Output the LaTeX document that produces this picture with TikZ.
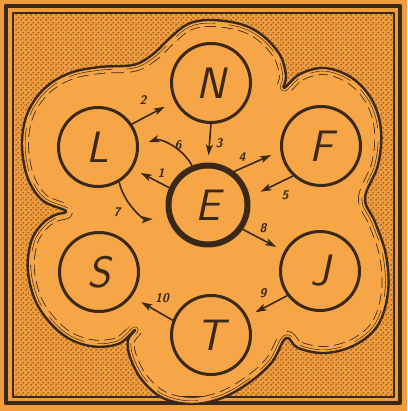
\documentclass[tikz,border=0pt]{standalone}
\usetikzlibrary{arrows.meta,patterns.meta}
\definecolor{bgor}{HTML}{F09C3C}
\definecolor{blobor}{HTML}{F6A646}
\definecolor{ink}{HTML}{3A2818}
\tikzdeclarepattern{name=stipple, type=uncolored,
  bottom left={(0pt,0pt)}, top right={(5pt,5pt)}, tile size={(5pt,5pt)},
  code={\fill (1.25pt,1.25pt) circle (0.85pt); \fill (3.75pt,3.75pt) circle (0.85pt);}}
\newcommand\blobpath{plot[smooth cycle, tension=0.6] coordinates {
 (210,20) (240,24) (262,35) (280,55) (286,76) (284,88)
 (300,74) (325,68) (352,78) (372,100) (381,130) (378,165) (365,198)
 (375,222) (386,255) (388,292) (378,325) (355,345) (325,353) (298,348) (286,338)
 (272,362) (250,382) (222,398) (192,404) (163,398) (142,380) (130,357) (128,340) (135,330)
 (118,344) (90,346) (62,334) (38,306) (28,272) (31,242) (42,224) (55,215) (66,211)
 (42,200) (27,176) (22,142) (28,112) (45,88) (70,73) (100,67) (133,65) (152,55) (170,38) (188,24)}}
\tikzset{
  circ/.style={circle, draw=ink, line width=3pt, minimum size=79pt, inner sep=0pt,
    font=\fontsize{44}{44}\selectfont\sffamily\itshape, text=ink},
  hub/.style={circ, line width=6pt},
  arr/.style={draw=ink, line width=1.6pt, -{Stealth[length=11pt,width=7pt,inset=2.5pt]}},
  num/.style={font=\fontsize{12.5}{12.5}\selectfont\sffamily\bfseries\itshape, text=ink, inner sep=0pt}
}
\begin{document}
\begin{tikzpicture}[x=1pt,y=-1pt, line join=round]
\useasboundingbox (0,0) rectangle (407,411);
\fill[bgor] (0,0) rectangle (407,411);
\fill[blobor] \blobpath;
\fill[pattern=stipple, pattern color=ink, even odd rule] (13,13) rectangle (394,397) \blobpath;
\draw[ink, line width=4.5pt] (6,6) rectangle (400,403);
\draw[ink, line width=1.5pt] (13,13) rectangle (394,397);
\begin{scope}
  \clip \blobpath;
  \draw[line width=13.8pt, ink, dash pattern=on 12pt off 6pt] \blobpath;
  \draw[line width=12.2pt, blobor] \blobpath;
  \draw[line width=6.8pt, ink, dash pattern=on 45pt off 14pt] \blobpath;
  \draw[line width=5.6pt, blobor] \blobpath;
\end{scope}
\draw[ink, line width=2.4pt] \blobpath;

\node[circ] (N) at (211,83) {N};
\node[circ] (L) at (98,147) {L};
\node[circ] (F) at (321,146) {F};
\node[hub]  (E) at (208,205) {E};
\node[circ] (S) at (99,272) {S};
\node[circ] (J) at (320,271) {J};
\node[circ] (T) at (211,335) {T};

\draw[arr, shorten >=11pt] (L.34) -- (N.207);
\draw[arr, shorten >=7pt] (N.270) -- (E.90);
\draw[arr, shorten >=10pt] (E.52) -- (F.187);
\draw[arr, shorten >=12pt] (F.227) -- (E.11);
\draw[arr, shorten >=10pt] (E.112) to[bend right=40] (L.2);
\draw[arr, shorten >=9pt] (E.156) -- (L.-32);
\draw[arr, shorten >=15pt] (L.-59) to[bend right=40] (E.198);
\draw[arr, shorten >=9pt] (E.-35) -- (J.151);
\draw[arr, shorten >=9pt] (J.217) -- (T.27);
\draw[arr, shorten >=11pt] (T.159) -- (S.-37);

\node[num] (n2) at (143,100) {2};
\node[num] (n3) at (219,143) {3};
\node[num] (n4) at (242,157) {4};
\node[num] (n5) at (285,195) {5};
\node[num] (n6) at (178,145) {6};
\node[num] (n1) at (161,173) {1};
\node[num] (n7) at (117,212) {7};
\node[num] (n8) at (263,228) {8};
\node[num] (n9) at (263,293) {9};
\node[num] (n10) at (162,298) {10};
\end{tikzpicture}
\end{document}
